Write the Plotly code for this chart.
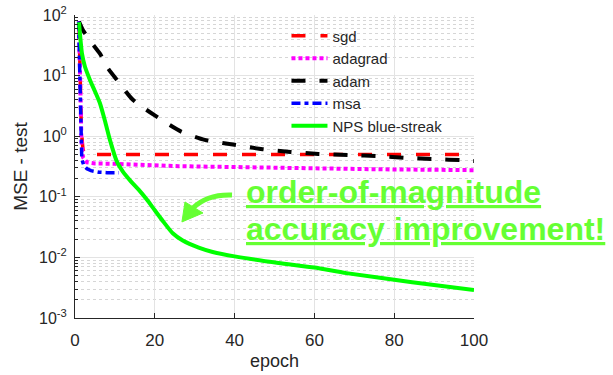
import plotly.graph_objects as go

# ---- data ----
sgd_epoch = [1, 1.3, 1.6, 2, 2.5, 3, 50, 100]
sgd_mse = [78, 8, 1.2, 0.6, 0.51, 0.5, 0.5, 0.5]

adagrad_epoch = [1, 1.3, 1.6, 2, 3, 5, 10, 26, 50, 75, 100]
adagrad_mse = [78, 6, 0.9, 0.45, 0.37, 0.355, 0.35, 0.32, 0.30, 0.285, 0.275]

adam_epoch = [1, 2, 4, 6.25, 8, 10.5, 14.5, 20, 26.5, 32.5, 40, 47, 54, 61, 69, 76, 83, 90, 97.5, 100]
adam_mse = [78, 56, 36, 23, 14, 8.5, 4, 2.2, 1.2, 0.87, 0.72, 0.61, 0.55, 0.51, 0.49, 0.47, 0.44, 0.42, 0.40, 0.39]

msa_epoch = [0.9, 1.2, 1.4, 1.7, 2.2, 3, 4, 6, 8, 11]
msa_mse = [78, 8, 1.0, 0.42, 0.33, 0.29, 0.27, 0.255, 0.25, 0.25]

nps_epoch = [1, 1.75, 2.5, 3.75, 5, 6.25, 7.5, 8.75, 10.5, 12, 14, 16, 18, 20, 22, 24.5, 27, 31, 34.5, 40, 51, 60, 68, 84.5, 100]
nps_mse = [76, 23, 14, 8.5, 5.5, 3.5, 1.8, 0.87, 0.38, 0.26, 0.18, 0.13, 0.09, 0.06, 0.04, 0.025, 0.019, 0.0145, 0.0123, 0.0104, 0.0081, 0.0068, 0.0055, 0.0039, 0.0029]

x_ticks = [0, 20, 40, 60, 80, 100]
y_exps = [-3, -2, -1, 0, 1, 2]
y_ticks = [10.0 ** e for e in y_exps]
y_ticktext = ["10<sup>%d</sup>" % e for e in y_exps]
y_minor = [k * 10.0 ** e for e in range(-3, 2) for k in range(2, 10)]

FONT = "Liberation Sans, Arial, Helvetica, sans-serif"
TXT = "#262626"
GREEN_TXT = "#66ff33"

fig = go.Figure()
fig.add_trace(go.Scatter(x=sgd_epoch, y=sgd_mse, name="sgd", mode="lines",
                         line=dict(color="#ff0000", width=3.5, dash="14px,15px")))
fig.add_trace(go.Scatter(x=adagrad_epoch, y=adagrad_mse, name="adagrad", mode="lines",
                         line=dict(color="#ff00ff", width=4, dash="4px,3px")))
fig.add_trace(go.Scatter(x=adam_epoch, y=adam_mse, name="adam", mode="lines",
                         line=dict(color="#000000", width=4, dash="14px,14px", shape="spline", smoothing=0.6)))
fig.add_trace(go.Scatter(x=msa_epoch, y=msa_mse, name="msa", mode="lines",
                         line=dict(color="#0000ff", width=3.5, dash="9px,4px,4px,4px")))
fig.add_trace(go.Scatter(x=nps_epoch, y=nps_mse, name="NPS blue-streak", mode="lines",
                         line=dict(color="#00ff00", width=4, shape="spline", smoothing=0.6)))

fig.update_layout(
    width=613, height=375,
    margin=dict(l=75, r=139, t=15, b=57),
    paper_bgcolor="white", plot_bgcolor="white",
    font=dict(family=FONT, size=17, color=TXT),
    showlegend=True,
    legend=dict(x=0.53, y=0.985, xanchor="left", yanchor="top",
                bgcolor="rgba(0,0,0,0)", borderwidth=0, itemwidth=36,
                font=dict(family=FONT, size=15, color=TXT),
                tracegroupgap=0),
    xaxis=dict(range=[0, 100], tickvals=x_ticks, ticks="inside", ticklen=5,
               tickcolor=TXT, showline=True, linecolor=TXT, linewidth=1,
               showgrid=True, gridcolor="#e3e3e3", gridwidth=1, zeroline=False,
               ticklabelstandoff=7, automargin=False,
               title=dict(text="epoch", standoff=4, font=dict(size=18))),
    yaxis=dict(type="log", range=[-3, 2], tickvals=y_ticks, ticktext=y_ticktext,
               ticks="inside", ticklen=5, tickcolor=TXT, showline=True,
               linecolor=TXT, linewidth=1, showgrid=True, gridcolor="#e3e3e3",
               gridwidth=1, zeroline=False, ticklabelstandoff=4, automargin=False,
               tickfont=dict(size=16),
               minor=dict(tickvals=y_minor, ticks="inside", ticklen=3, tickcolor=TXT,
                          showgrid=True, gridcolor="#d6d6d6", griddash="dot", gridwidth=1),
               title=dict(text="MSE - test", standoff=6, font=dict(size=19))),
)

# curved arrow (paper coords relative to plot area)
fig.add_shape(type="path", xref="paper", yref="paper",
              path="M 0.3935 0.406 Q 0.331 0.409 0.2957 0.363",
              line=dict(color=GREEN_TXT, width=5))
fig.add_shape(type="path", xref="paper", yref="paper",
              path="M 0.268 0.317 L 0.2757 0.383 L 0.3208 0.3465 Z",
              line=dict(color=GREEN_TXT, width=1), fillcolor=GREEN_TXT)

fig.add_annotation(xref="paper", yref="paper", x=0.423, y=0.415, xanchor="left", yanchor="middle",
                   text="<b><u>order-of-magnitude</u></b>", showarrow=False,
                   font=dict(family=FONT, size=32, color=GREEN_TXT))
fig.add_annotation(xref="paper", yref="paper", x=0.423, y=0.293, xanchor="left", yanchor="middle",
                   text="<b><u>accuracy improvement!</u></b>", showarrow=False,
                   font=dict(family=FONT, size=32, color=GREEN_TXT))

fig.write_html("out.html")
